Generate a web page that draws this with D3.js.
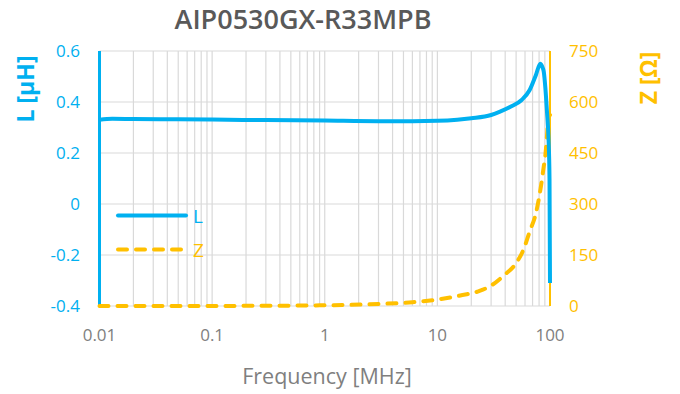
<!DOCTYPE html>
<html>
<head>
<meta charset="utf-8">
<script src="https://cdn.jsdelivr.net/npm/d3@7"></script>
<style>
  html, body { margin: 0; padding: 0; background: #fff; }
  svg { display: block; font-family: "Open Sans", "Noto Sans", sans-serif; }
</style>
</head>
<body>
<svg id="chart" width="680" height="394"></svg>
<script>
// Inductance curve L [µH] versus frequency [MHz]
const freqL = [0.01, 0.013, 0.02, 0.05, 0.1, 0.3, 1, 3, 6, 10, 15, 20, 30, 36, 45, 56, 66, 75, 82, 85, 88, 91, 94, 97, 99, 100];
const valL  = [0.330, 0.334, 0.333, 0.332, 0.331, 0.329, 0.327, 0.325, 0.325, 0.326, 0.330, 0.336, 0.349, 0.362, 0.382, 0.408, 0.447, 0.506, 0.550, 0.540, 0.519, 0.454, 0.362, 0.258, 0.100, -0.310];

// Impedance curve Z [Ω] versus frequency [MHz]
const freqZ = [0.01, 0.1, 1, 3, 6, 10, 16, 24, 30, 39, 50, 58, 66, 75, 83, 88, 91, 94, 97, 100];
const valZ  = [0.02, 0.2, 2, 6, 11, 19, 31, 45, 60, 90, 126, 165, 219, 273, 351, 410, 444, 500, 552, 562];

const xTicks = [0.01, 0.1, 1, 10, 100];
const lTicks = [-0.4, -0.2, 0, 0.2, 0.4, 0.6];
const zTicks = [0, 150, 300, 450, 600, 750];

const titleText = "AIP0530GX-R33MPB";
const xTitle = "Frequency [MHz]";
const lTitle = "L [µH]";
const zTitle = "Z [Ω]";

const blue = "#00B0F0";
const orange = "#FFC000";
const grid = "#D9D9D9";

const svg = d3.select("#chart");

const x = d3.scaleLog().domain([0.01, 100]).range([99.5, 550]);
const yL = d3.scaleLinear().domain([-0.4, 0.6]).range([306, 51]);
const yZ = d3.scaleLinear().domain([0, 750]).range([306, 51]);

// minor + major vertical grid lines (1..9 per decade)
const vGrid = [];
for (let e = -2; e < 2; e++) {
  for (let m = 1; m <= 9; m++) vGrid.push(m * Math.pow(10, e));
}
vGrid.push(100);

svg.append("g").selectAll("line").data(vGrid).join("line")
  .attr("x1", d => x(d)).attr("x2", d => x(d))
  .attr("y1", yL(0.6)).attr("y2", yL(-0.4))
  .attr("stroke", grid).attr("stroke-width", 1.2);

svg.append("g").selectAll("line").data(lTicks).join("line")
  .attr("x1", x(0.01)).attr("x2", x(100))
  .attr("y1", d => yL(d)).attr("y2", d => yL(d))
  .attr("stroke", grid).attr("stroke-width", 1.2);

// axis lines
svg.append("line")
  .attr("x1", x(0.01)).attr("x2", x(0.01))
  .attr("y1", yL(0.6)).attr("y2", yL(-0.4))
  .attr("stroke", blue).attr("stroke-width", 3);
svg.append("line")
  .attr("x1", x(100)).attr("x2", x(100))
  .attr("y1", yZ(750)).attr("y2", yZ(0))
  .attr("stroke", orange).attr("stroke-width", 2);

// tick labels
const fmtL = d => d === 0 ? "0" : d3.format(".1f")(d).replace("−", "-");
svg.append("g").selectAll("text").data(lTicks).join("text")
  .attr("x", 80).attr("y", d => yL(d) + 6)
  .attr("text-anchor", "end")
  .attr("font-size", 17).attr("fill", blue)
  .text(fmtL);

svg.append("g").selectAll("text").data(zTicks).join("text")
  .attr("x", 569).attr("y", d => yZ(d) + 6)
  .attr("text-anchor", "start")
  .attr("font-size", 17).attr("fill", orange)
  .text(d => d);

svg.append("g").selectAll("text").data(xTicks).join("text")
  .attr("x", d => x(d)).attr("y", 341)
  .attr("text-anchor", "middle")
  .attr("font-size", 17).attr("fill", "#808080")
  .text(d => d);

// titles
svg.append("text")
  .attr("x", 303).attr("y", 29)
  .attr("text-anchor", "middle")
  .attr("font-size", 27).attr("font-weight", 600).attr("fill", "#595959")
  .text(titleText);

svg.append("text")
  .attr("x", 327).attr("y", 384)
  .attr("text-anchor", "middle")
  .attr("font-size", 21.5).attr("fill", "#7F7F7F")
  .text(xTitle);

svg.append("text")
  .attr("transform", "translate(34,89) rotate(-90)")
  .attr("text-anchor", "middle")
  .attr("font-size", 23).attr("font-weight", 700).attr("fill", blue)
  .text(lTitle);

svg.append("text")
  .attr("transform", "translate(657,78) rotate(-90)")
  .attr("text-anchor", "middle")
  .attr("font-size", 23).attr("font-weight", 700).attr("fill", orange)
  .text(zTitle);

// curves
const lineL = d3.line()
  .x(d => x(d[0])).y(d => yL(d[1]))
  .curve(d3.curveMonotoneX);
const lineZ = d3.line()
  .x(d => x(d[0])).y(d => yZ(d[1]))
  .curve(d3.curveMonotoneX);

svg.append("path")
  .datum(d3.zip(freqZ, valZ))
  .attr("d", lineZ)
  .attr("fill", "none").attr("stroke", orange)
  .attr("stroke-width", 4).attr("stroke-linecap", "round")
  .attr("stroke-dasharray", "9,9");

svg.append("path")
  .datum(d3.zip(freqL, valL))
  .attr("d", lineL)
  .attr("fill", "none").attr("stroke", blue)
  .attr("stroke-width", 4).attr("stroke-linejoin", "round");

// legend
const legend = svg.append("g");
legend.append("line")
  .attr("x1", 118).attr("x2", 186).attr("y1", 215.5).attr("y2", 215.5)
  .attr("stroke", blue).attr("stroke-width", 4).attr("stroke-linecap", "round");
legend.append("text")
  .attr("x", 193).attr("y", 222.5)
  .attr("font-size", 19).attr("fill", blue).text("L");
legend.append("line")
  .attr("x1", 118).attr("x2", 186).attr("y1", 249.5).attr("y2", 249.5)
  .attr("stroke", orange).attr("stroke-width", 4).attr("stroke-linecap", "round")
  .attr("stroke-dasharray", "9,9");
legend.append("text")
  .attr("x", 193).attr("y", 256.5)
  .attr("font-size", 19).attr("fill", orange).text("Z");
</script>
</body>
</html>
